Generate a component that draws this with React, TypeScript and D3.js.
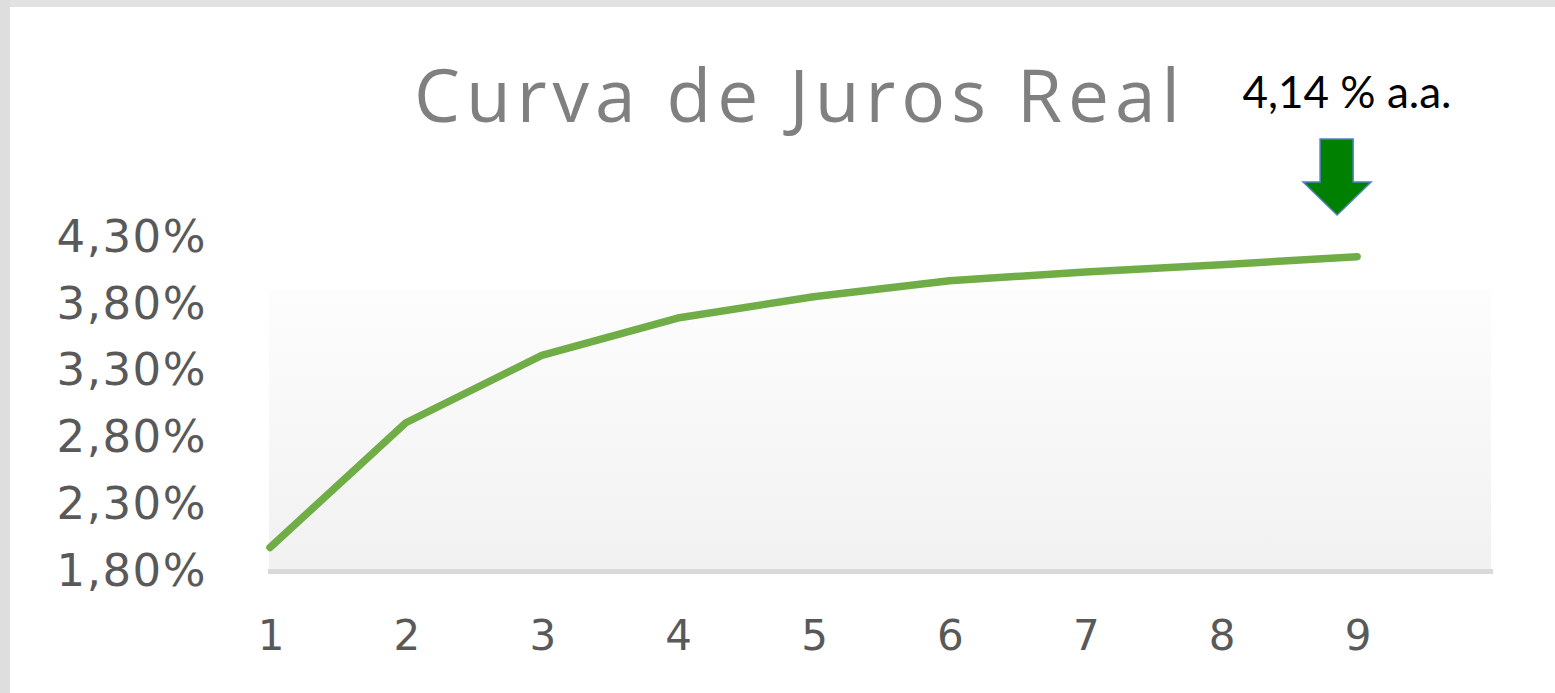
import React from 'react'
import * as d3 from 'd3'

// chart data
const categories = [1, 2, 3, 4, 5, 6, 7, 8, 9]
const rates = [1.98, 2.915, 3.42, 3.70, 3.86, 3.98, 4.045, 4.10, 4.16]
const yTicks = [1.8, 2.3, 2.8, 3.3, 3.8, 4.3]
const title = 'Curva de Juros Real'
const note = '4,14 % a.a.'

export default function App() {
    const W = 1555
    const H = 693

    // scales
    const x = d3.scaleLinear().domain([1, 10]).range([270, 1493])
    const y = d3.scaleLinear().domain([1.8, 4.3]).range([571.5, 238])

    const line = d3.line<number>()
        .x((d, i) => x(categories[i]))
        .y(d => y(d))

    const fmt = (v: number) => v.toFixed(2).replace('.', ',') + '%'

    const lastX = x(categories[categories.length - 1])
    const ax = lastX - 20 // arrow centre
    const arrow = d3.path()
    arrow.moveTo(ax - 17, 139)
    arrow.lineTo(ax + 16, 139)
    arrow.lineTo(ax + 16, 182)
    arrow.lineTo(ax + 34, 182)
    arrow.lineTo(ax, 215)
    arrow.lineTo(ax - 34, 182)
    arrow.lineTo(ax - 17, 182)
    arrow.closePath()

    return (
        <div style={{ position: 'absolute', left: 0, top: 0 }}>
            <svg width={W} height={H} style={{ display: 'block', background: 'white' }}>
                <defs>
                    <linearGradient id="plotBg" x1="0" y1="0" x2="0" y2="1">
                        <stop offset="0%" stopColor="#fdfdfd" />
                        <stop offset="100%" stopColor="#f1f1f1" />
                    </linearGradient>
                </defs>
                {/* frame */}
                <rect x={0} y={0} width={W} height={7} fill="#e2e2e2" />
                <rect x={0} y={0} width={10} height={H} fill="#dedede" />

                {/* title */}
                <text x={800} y={122} textAnchor="middle" fontFamily="'Open Sans', sans-serif"
                    fontSize={73} fill="#808080" letterSpacing={6}>{title}</text>

                {/* plot area */}
                <rect x={269} y={290} width={1222} height={279} fill="url(#plotBg)" />
                <line x1={268} x2={1493} y1={y(1.8)} y2={y(1.8)} stroke="#d9d9d9" strokeWidth={5} />

                {/* y labels */}
                {yTicks.map(t => (
                    <text key={t} x={207} y={y(t) + 14} textAnchor="end"
                        fontFamily="'DejaVu Sans', sans-serif" fontSize={45} letterSpacing={1.5}
                        fill="#595959">{fmt(t)}</text>
                ))}

                {/* x labels */}
                {categories.map(c => (
                    <text key={c} x={x(c) + 1} y={650} textAnchor="middle"
                        fontFamily="'DejaVu Sans', sans-serif" fontSize={42} fill="#595959">{c}</text>
                ))}

                {/* series */}
                <path d={line(rates) || ''} fill="none" stroke="#70ad47" strokeWidth={7.5}
                    strokeLinecap="round" strokeLinejoin="round" />

                {/* annotation */}
                <text x={1347} y={108} textAnchor="middle" fontFamily="Lato, sans-serif"
                    fontSize={44} fill="#000">{note}</text>
                <path d={arrow.toString()} fill="#008000" stroke="#4f81bd" strokeWidth={1.5} />
            </svg>
        </div>
    )
}
